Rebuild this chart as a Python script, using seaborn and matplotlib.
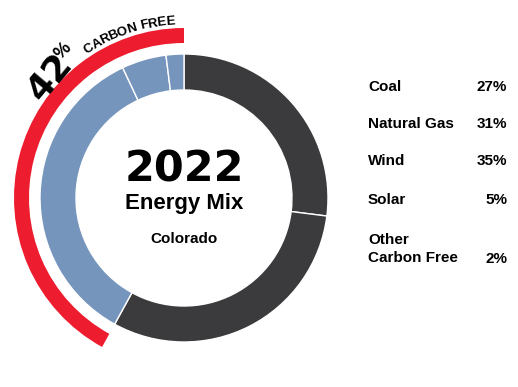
import numpy as np
import matplotlib
matplotlib.use("Agg")
import matplotlib.pyplot as plt
from matplotlib.patches import Wedge
import seaborn as sns

sns.set_theme(style="white")
plt.rcParams["font.family"] = ["Liberation Sans", "DejaVu Sans"]

## Data
sources = ["Coal", "Natural Gas", "Wind", "Solar", "Other\nCarbon Free"]
shares = [27, 31, 35, 5, 2]
carbon_free = [False, False, True, True, True]
year = "2022"
state = "Colorado"

dark = "#3b3b3d"
blue = "#7595bd"
red = "#ed1c2f"
colors = [blue if cf else dark for cf in carbon_free]
cf_total = sum(s for s, cf in zip(shares, carbon_free) if cf)

W, H = 518, 387
fig = plt.figure(figsize=(W / 100, H / 100), dpi=100)
ax = fig.add_axes([0, 0, 1, 1])

cx, cy = 184, 189
r_out, ring = 144, 36

## Donut
ax.pie(shares, colors=colors, startangle=90, counterclock=False,
       center=(cx, cy), radius=r_out, frame=True,
       wedgeprops=dict(width=ring, edgecolor="white", linewidth=1))

## Carbon free arc
arc = Wedge((cx, cy), 170, 90, 90 + 360 * cf_total / 100, width=15,
            facecolor=red, edgecolor="none")
ax.add_patch(arc)

ax.set_xlim(0, W)
ax.set_ylim(0, H)
ax.set_aspect("equal")
ax.axis("off")

## Center labels
ax.text(cx, cy + 29, year, ha="center", va="center", fontsize=31,
        fontweight="bold", family="DejaVu Sans", color="black")
ax.text(cx, cy - 6, "Energy Mix", ha="center", va="center", fontsize=16,
        fontweight="bold", color="black")
ax.text(cx, cy - 41, state, ha="center", va="center", fontsize=11,
        fontweight="bold", color="black")

## Curved "CARBON FREE" label
renderer = fig.canvas.get_renderer()
label = "CARBON FREE"
r_txt = 174
fs_arc = 9.5
widths = []
for ch in label:
    t = ax.text(0, 0, ch if ch != " " else "-", fontsize=fs_arc,
                fontweight="bold")
    bb = t.get_window_extent(renderer=renderer)
    widths.append(bb.width * (1.0 if ch == " " else 0.95))
    t.remove()
total = sum(widths)
ang = 108.5 + np.degrees(total / 2 / r_txt)
for ch, w in zip(label, widths):
    mid = ang - np.degrees(w / 2 / r_txt)
    a = np.radians(mid)
    ax.text(cx + r_txt * np.cos(a), cy + r_txt * np.sin(a), ch,
            rotation=mid - 90, rotation_mode="anchor", ha="center",
            va="baseline", fontsize=fs_arc, fontweight="bold", color="black")
    ang -= np.degrees(w / r_txt)

ax.text(50, 310, str(cf_total), rotation=50, ha="center", va="center",
        fontsize=26, fontweight="bold", family="DejaVu Sans", color="black")
ax.text(63, 336, "%", rotation=45, ha="center", va="center",
        fontsize=13, fontweight="bold", color="black")

## Legend
rows_y = [300, 263, 226, 187, 138]
for name, share, y in zip(sources, shares, rows_y):
    ax.text(368, y, name, ha="left", va="center", fontsize=11,
            fontweight="bold", color="black", linespacing=1.4)
    vy = y - 10 if "\n" in name else y
    ax.text(507, vy, f"{share}%", ha="right", va="center", fontsize=11,
            fontweight="bold", color="black")

plt.savefig("out.png", dpi=100)
